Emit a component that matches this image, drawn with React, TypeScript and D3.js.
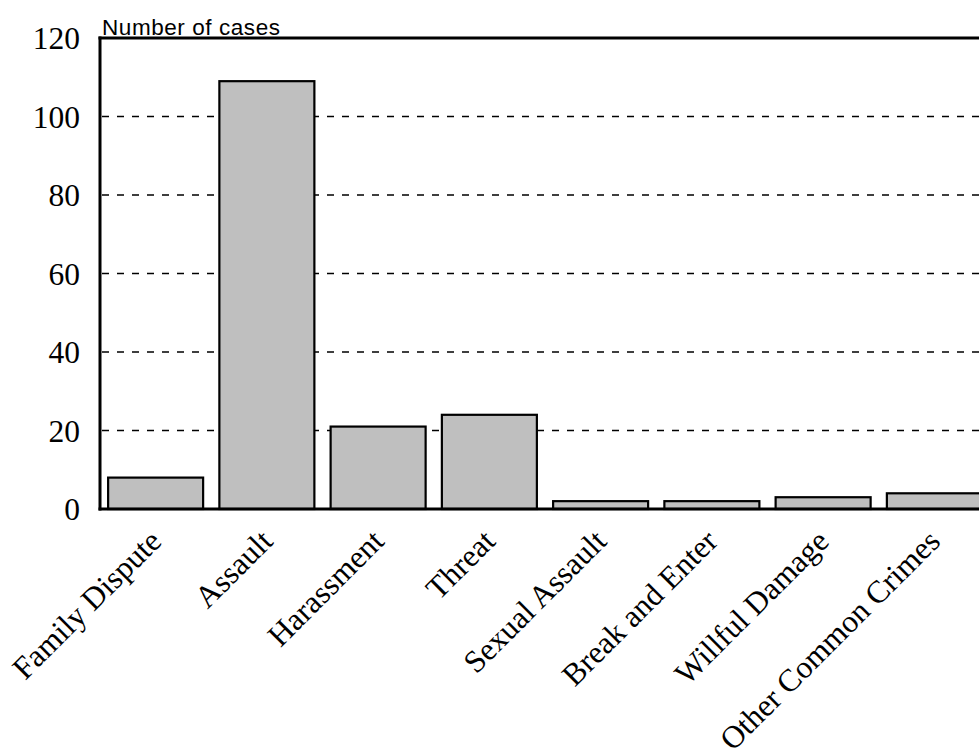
import React from "react";
import * as d3 from "d3";

const categories = [
  "Family Dispute",
  "Assault",
  "Harassment",
  "Threat",
  "Sexual Assault",
  "Break and Enter",
  "Willful Damage",
  "Other Common Crimes",
];
const cases = [8, 109, 21, 24, 2, 2, 3, 4];
const yTicks = [0, 20, 40, 60, 80, 100, 120];
const gridTicks = [20, 40, 60, 80, 100];
const yTitle = "Number of cases";

const W = 979;
const H = 750;
const left = 100;
const right = 990;
const top = 38;
const bottom = 509;

export default function App() {
  const x = d3
    .scaleBand<string>()
    .domain(categories)
    .range([left, right])
    .paddingInner(0.146)
    .paddingOuter(0.073);
  const y = d3.scaleLinear().domain([0, 120]).range([bottom, top]);

  return (
    <svg
      width={W}
      height={H}
      style={{ position: "absolute", left: 0, top: 0, overflow: "hidden", background: "#fff" }}
    >
      <rect x={0} y={0} width={W} height={H} fill="#fff" />
      {gridTicks.map((t) => (
        <line
          key={"g" + t}
          x1={left + 2}
          x2={right}
          y1={y(t)}
          y2={y(t)}
          stroke="#000"
          strokeWidth={1.3}
          strokeDasharray="7,8"
        />
      ))}
      {categories.map((c, i) => (
        <rect
          key={c}
          x={x(c)}
          y={y(cases[i])}
          width={x.bandwidth()}
          height={y(0) - y(cases[i])}
          fill="#bfbfbf"
          stroke="#000"
          strokeWidth={2.2}
        />
      ))}
      <line x1={left} x2={left} y1={top - 1.5} y2={bottom + 1.5} stroke="#000" strokeWidth={3} />
      <line x1={left - 1.5} x2={right} y1={bottom} y2={bottom} stroke="#000" strokeWidth={3} />
      <line x1={left - 1.5} x2={right} y1={top} y2={top} stroke="#000" strokeWidth={3} />
      {yTicks.map((t) => (
        <text
          key={"t" + t}
          x={80}
          y={y(t) + 11}
          textAnchor="end"
          fontFamily="'Liberation Serif', 'Times New Roman', serif"
          fontSize={31.5}
          fill="#000"
        >
          {t}
        </text>
      ))}
      <text
        x={102}
        y={35}
        fontFamily="'Liberation Sans', Arial, sans-serif"
        fontSize={22.5}
        textLength={178}
        lengthAdjust="spacing"
        fill="#000"
      >
        {yTitle}
      </text>
      {categories.map((c) => (
        <text
          key={"l" + c}
          transform={`translate(${(x(c) as number) + x.bandwidth() / 2 + 7.5},${bottom + 34}) rotate(-45)`}
          textAnchor="end"
          fontFamily="'Liberation Serif', 'Times New Roman', serif"
          fontSize={31.5}
          fill="#000"
        >
          {c}
        </text>
      ))}
    </svg>
  );
}
